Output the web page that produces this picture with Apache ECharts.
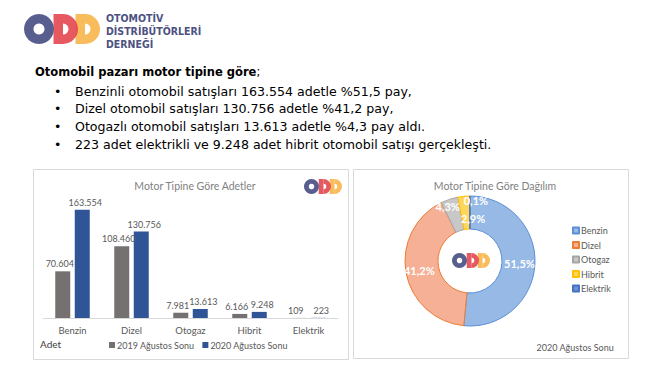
<!DOCTYPE html>
<html><head><meta charset="utf-8">
<script src="https://cdn.jsdelivr.net/npm/echarts@6/dist/echarts.min.js"></script>
<style>html,body{margin:0;padding:0;background:#fff}#c{width:650px;height:366px}</style>
</head><body><div id="c"></div>
<script>
const categories = ['Benzin', 'Dizel', 'Otogaz', 'Hibrit', 'Elektrik'];
const series2019 = [70604, 108460, 7981, 6166, 109];
const series2020 = [163554, 130756, 13613, 9248, 223];
const seriesNames = ['2019 Ağustos Sonu', '2020 Ağustos Sonu'];
const headerTitle = 'Otomobil pazarı motor tipine göre';
const bullets = [
  'Benzinli otomobil satışları 163.554 adetle %51,5 pay,',
  'Dizel otomobil satışları 130.756 adetle %41,2 pay,',
  'Otogazlı otomobil satışları 13.613 adetle %4,3 pay aldı.',
  '223 adet elektrikli ve 9.248 adet hibrit otomobil satışı gerçekleşti.'
];
const orgLines = ['OTOMOTİV', 'DİSTRİBÜTÖRLERİ', 'DERNEĞİ'];

const FONT = 'DejaVu Sans';
const CFONT = 'Lato';
const fmtThousands = v => String(v).replace(/\B(?=(\d{3})+(?!\d))/g, '.');
const total2020 = series2020.reduce((a, b) => a + b, 0);

const pieFill = ['#97b9e6', '#f5b096', '#c8c8c8', '#ffd65c', '#6f8fd0'];
const pieBorder = ['#5b8fd6', '#ed7d31', '#a5a5a5', '#ffc000', '#4472c4'];

function logo(x, y, s) {
  const R = 15, r0 = 5.5;
  function D(cx, color) {
    return [
      {type: 'rect', shape: {x: cx - (R - r0), y: 15 - R, width: R - r0, height: 2 * R}, style: {fill: color, opacity: 0.9}},
      {type: 'sector', shape: {cx: cx, cy: 15, r: R, r0: r0, startAngle: -Math.PI / 2, endAngle: Math.PI / 2}, style: {fill: color, opacity: 0.9}}
    ];
  }
  return {
    type: 'group', x: x, y: y, scaleX: s, scaleY: s, silent: true,
    children: [].concat(
      D(61, '#f7b54a'),
      D(39, '#e4474f'),
      [{type: 'ring', shape: {cx: 15, cy: 15, r: R, r0: r0}, style: {fill: '#4a5186', opacity: 0.92}}]
    )
  };
}

const graphics = [
  {type: 'rect', shape: {x: 33.5, y: 169.5, width: 315, height: 190}, style: {fill: 'none', stroke: '#d9d9d9', lineWidth: 1}, silent: true, z: -1},
  {type: 'rect', shape: {x: 353.5, y: 169.5, width: 275, height: 189}, style: {fill: 'none', stroke: '#d9d9d9', lineWidth: 1}, silent: true, z: -1},
  logo(24, 14, 1),
  logo(304, 179, 0.5),
  logo(452, 253, 0.5),
  {type: 'text', left: 35, top: 66, style: {text: headerTitle + '{r|;}', rich: {r: {fontWeight: 'normal', fontSize: 11.5, fontFamily: FONT, fill: '#000'}}, fontFamily: FONT, fontSize: 11.5, fontWeight: 'bold', fill: '#000'}},
  {type: 'text', left: 106, top: 11, style: {text: orgLines.join('\n'), lineHeight: 13, fontFamily: 'DejaVu Sans Condensed, DejaVu Sans', fontSize: 10.5, fontWeight: 'bold', fill: '#4d5282'}}
];
bullets.forEach((b, i) => {
  const y = 84.5 + i * 17.7;
  graphics.push({type: 'text', left: 54, top: y, style: {text: '•', fontFamily: FONT, fontSize: 12.5, fill: '#000'}});
  graphics.push({type: 'text', left: 75, top: y, style: {text: b, fontFamily: FONT, fontSize: 12.6, fill: '#000'}});
});
graphics.push({type: 'text', left: 40, top: 339, style: {text: 'Adet', fontFamily: CFONT, fontSize: 10, fill: '#404040'}});
graphics.push({type: 'text', right: 36, top: 343, style: {text: '2020 Ağustos Sonu', fontFamily: CFONT, fontSize: 9, fill: '#595959'}});

// pie label fine-tuning (visual offsets only)
const pieLabelShift = [[-2, 0], [0, 0], [-6, -6], [8, 9], [6, -9]];

const chart = echarts.init(document.getElementById('c'), null, {renderer: 'svg'});
chart.setOption({
  animation: false,
  backgroundColor: '#ffffff',
  textStyle: {fontFamily: CFONT},
  title: [
    {text: 'Motor Tipine Göre Adetler', left: 190, top: 175, textAlign: 'center', textStyle: {fontFamily: CFONT, fontSize: 10.5, fontWeight: 'normal', color: '#7f7f7f'}},
    {text: 'Motor Tipine Göre Dağılım', left: 490, top: 175, textAlign: 'center', textStyle: {fontFamily: CFONT, fontSize: 10.5, fontWeight: 'normal', color: '#7f7f7f'}}
  ],
  legend: [
    {data: seriesNames, left: 104, top: 335.5, icon: 'rect', itemWidth: 6, itemHeight: 6, itemGap: 8, textStyle: {fontFamily: CFONT, fontSize: 9, color: '#595959', padding: [0, 0, 0, -3]}, selectedMode: false},
    {data: categories, orient: 'vertical', left: 567, top: 221, icon: 'rect', itemWidth: 6, itemHeight: 6, itemGap: 5.5, textStyle: {fontFamily: CFONT, fontSize: 9, color: '#595959', padding: [0, 0, 0, -3]}, selectedMode: false}
  ],
  grid: {left: 43, right: 312, top: 199, bottom: 48, containLabel: false},
  xAxis: {
    type: 'category', data: categories,
    axisLine: {lineStyle: {color: '#d9d9d9'}}, axisTick: {show: false},
    axisLabel: {color: '#595959', fontSize: 9.5, margin: 7, fontFamily: CFONT}
  },
  yAxis: {type: 'value', min: 0, max: 180000, show: false, splitLine: {show: false}},
  series: [
    {name: seriesNames[0], type: 'bar', data: series2019, barWidth: 15, barGap: '30%', itemStyle: {color: '#767171'},
      label: {show: true, position: 'top', distance: 3, offset: [-3, 0], fontSize: 9, color: '#595959', fontFamily: CFONT, formatter: p => fmtThousands(p.value)}},
    {name: seriesNames[1], type: 'bar', data: series2020, barWidth: 15, itemStyle: {color: '#2f5597'},
      label: {show: true, position: 'top', distance: 3, offset: [3, 0], fontSize: 9, color: '#595959', fontFamily: CFONT, formatter: p => fmtThousands(p.value)}},
    {name: 'Dağılım', type: 'pie', center: [470, 261], radius: [32, 65], startAngle: 90, clockwise: true,
      avoidLabelOverlap: false,
      data: categories.map((c, i) => ({name: c, value: series2020[i], itemStyle: {color: pieFill[i], borderColor: pieBorder[i], borderWidth: 1}})),
      label: {show: true, position: 'inside', color: '#ffffff', fontWeight: 'bold', fontSize: 11, fontFamily: CFONT,
        formatter: p => (p.value / total2020 * 100).toFixed(1).replace('.', ',') + '%'},
      labelLine: {show: false},
      labelLayout: p => ({dx: pieLabelShift[p.dataIndex][0], dy: pieLabelShift[p.dataIndex][1]}),
      emphasis: {disabled: true}
    }
  ],
  graphic: graphics
});
</script></body></html>
